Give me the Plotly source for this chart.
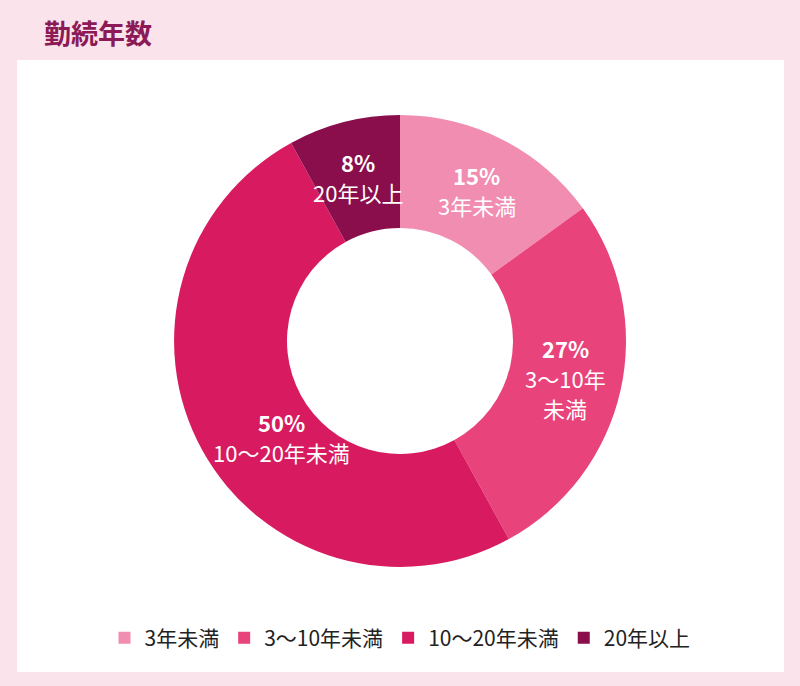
import math
import plotly.graph_objects as go

# 勤続年数の内訳 (%)
categories = ["3年未満", "3～10年未満", "10～20年未満", "20年以上"]
slice_labels = ["3年未満", "3～10年<br>未満", "10～20年未満", "20年以上"]
values = [15, 27, 50, 8]
colors = ["#f28db2", "#e8437b", "#d81b60", "#8a0e4b"]

W, H = 800, 686
font_jp = "Noto Sans CJK JP"
label_size = 22
pitch = 30  # px between label lines

# pie placement (paper fractions)
dom_x = [174 / W, 626 / W]
dom_y = [1 - 567 / H, 1 - 115 / H]
hole = 0.5

fig = go.Figure()

fig.add_trace(
    go.Pie(
        labels=categories,
        values=values,
        hole=hole,
        sort=False,
        direction="clockwise",
        rotation=0,
        marker=dict(colors=colors, line=dict(width=0)),
        textinfo="none",
        domain=dict(x=dom_x, y=dom_y),
        hoverinfo="label+percent",
    )
)


def text_width(s, size):
    # rough width of a line: half width for ascii, full width otherwise
    return sum(0.55 * size if ord(c) < 128 else 1.0 * size for c in s)


cx = (dom_x[0] + dom_x[1]) / 2 * W
cy = (1 - (dom_y[0] + dom_y[1]) / 2) * H
r_out = (dom_x[1] - dom_x[0]) * W / 2
r_in = r_out * hole
r_mid = (r_out + r_in) / 2


def fits(px, py, lines):
    # every line box must stay inside the ring
    n = len(lines)
    for i, s in enumerate(lines):
        hw = text_width(s, label_size) / 2
        hh = 0.4 * label_size
        ly = py + (i - (n - 1) / 2) * pitch
        x0, x1, y0, y1 = px - hw - cx, px + hw - cx, ly - hh - cy, ly + hh - cy
        far = max(math.hypot(x, y) for x in (x0, x1) for y in (y0, y1))
        nx = min(max(0, x0), x1)
        ny = min(max(0, y0), y1)
        if far > r_out - 3 or math.hypot(nx, ny) < r_in:
            return False
    return True


# slice labels: at each slice's middle angle, moved to the nearest spot
# where the text stays inside the ring
total = sum(values)
annotations = []
cum = 0
for v, lab in zip(values, slice_labels):
    ang = 2 * math.pi * (cum + v / 2) / total
    cum += v
    pct = f"{round(100 * v / total)}%"
    lines = [pct] + lab.split("<br>")
    mx = cx + r_mid * math.sin(ang)
    my = cy - r_mid * math.cos(ang)
    best = None
    for dx in range(-100, 101, 2):
        for dy in range(-100, 101, 2):
            d = math.hypot(dx, dy)
            if best is not None and d >= best[0]:
                continue
            if fits(mx + dx, my + dy, lines):
                best = (d, mx + dx, my + dy)
    px, py = (best[1], best[2]) if best else (mx, my)
    n = len(lines)
    for i, s in enumerate(lines):
        ly = py + (i - (n - 1) / 2) * pitch
        annotations.append(dict(
            text=f"<b>{s}</b>" if i == 0 else s,
            x=px / W, y=1 - ly / H, xref="paper", yref="paper",
            xanchor="center", yanchor="middle", showarrow=False,
            font=dict(family=font_jp, size=label_size, color="white"),
        ))

fig.update_layout(
    width=W,
    height=H,
    margin=dict(l=0, r=0, t=0, b=0),
    paper_bgcolor="#fbe3ec",
    plot_bgcolor="white",
    font=dict(family=font_jp, color="#222222"),
    # white panel behind the chart
    shapes=[
        dict(type="rect", xref="paper", yref="paper",
             x0=17 / W, x1=784 / W, y0=1 - 672 / H, y1=1 - 60 / H,
             fillcolor="white", line=dict(width=0), layer="below")
    ],
    annotations=annotations,
    title=dict(
        text="<b>勤続年数</b>",
        font=dict(family=font_jp, size=27, color="#8b1a56"),
        x=44 / W, xref="paper", xanchor="left",
        y=1 - 35 / H, yref="container", yanchor="middle",
    ),
    showlegend=True,
    legend=dict(
        orientation="h",
        x=0.5, xanchor="center",
        y=1 - 638 / H, yanchor="middle",
        font=dict(family=font_jp, size=21, color="#222222"),
        itemwidth=30,
        traceorder="normal",
        bgcolor="rgba(0,0,0,0)",
    ),
)

fig.write_html("out.html", config={"displayModeBar": False},
               post_script="document.body.style.margin='0';")
